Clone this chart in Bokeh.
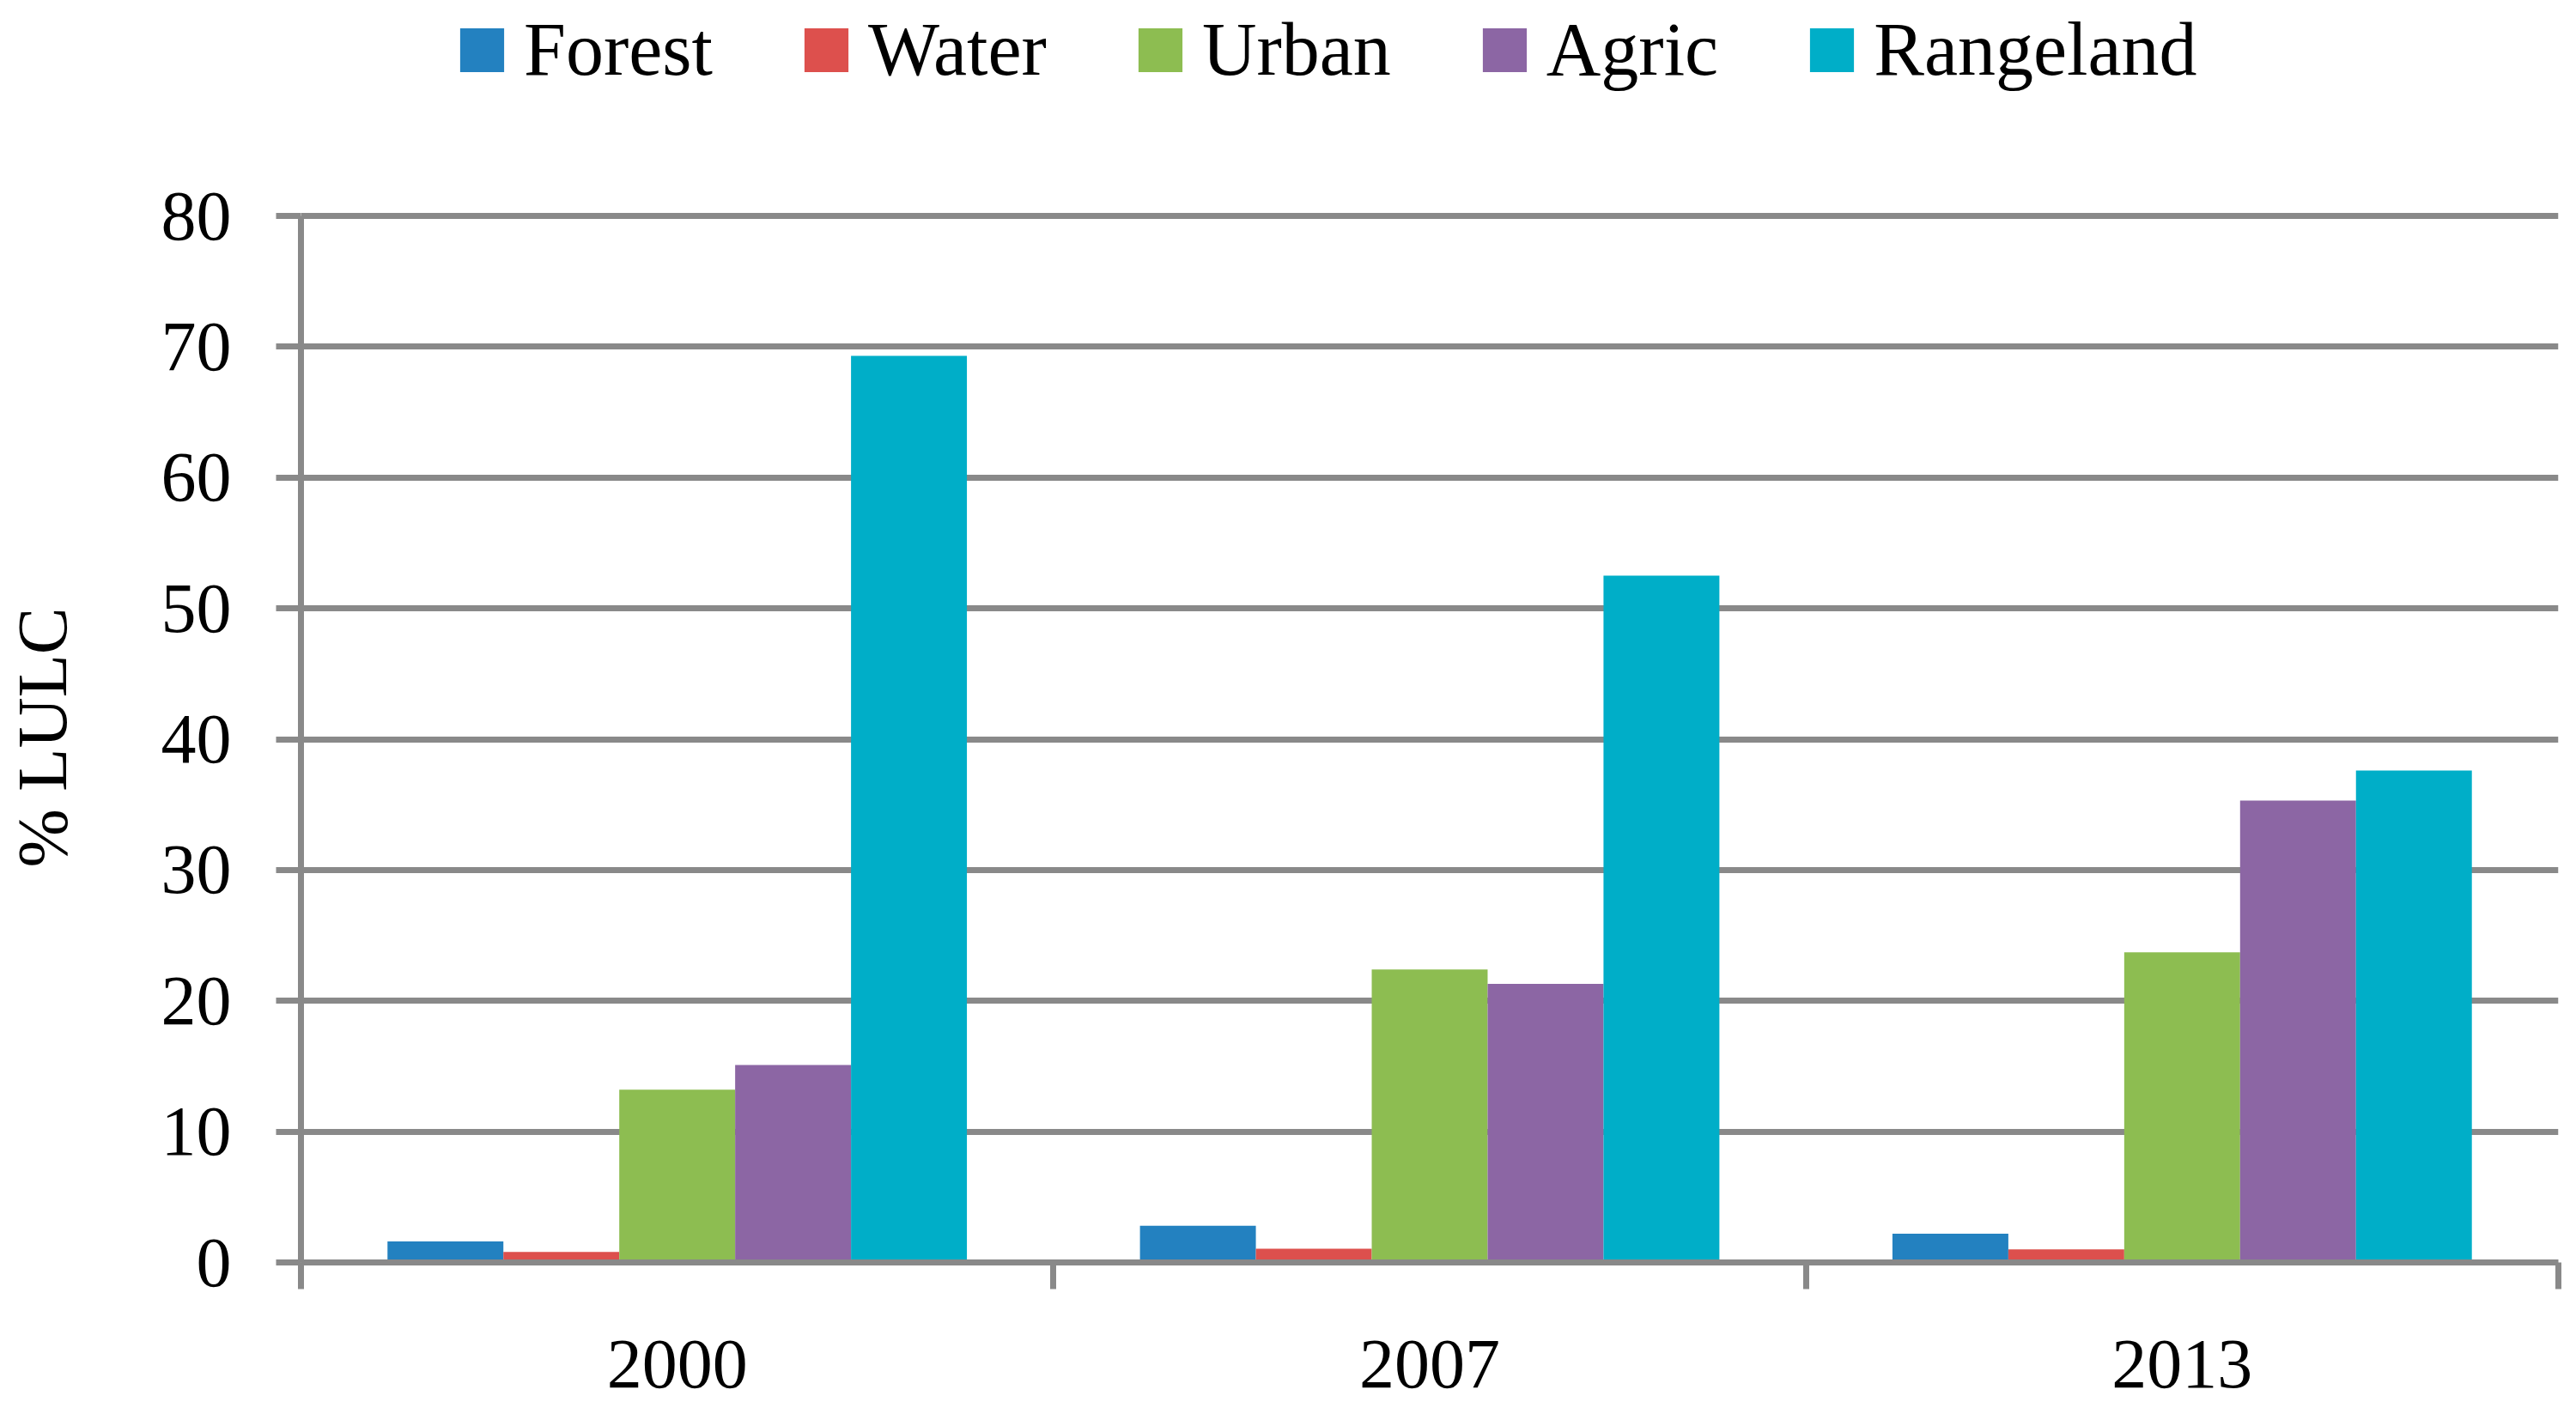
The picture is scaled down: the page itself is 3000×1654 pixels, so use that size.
from bokeh.plotting import figure
from bokeh.layouts import column
from bokeh.models import Range1d, FixedTicker, Legend, LegendItem, ColumnDataSource
from bokeh.embed import file_html
from bokeh.resources import INLINE

years = ["2000", "2007", "2013"]
classes = ["Forest", "Water", "Urban", "Agric", "Rangeland"]
forest = [1.6, 2.8, 2.2]
water = [0.8, 1.05, 1.0]
urban = [13.2, 22.4, 23.7]
agric = [15.1, 21.3, 35.3]
rangeland = [69.3, 52.5, 37.6]
y_ticks = [0, 10, 20, 30, 40, 50, 60, 70, 80]
colors = ["#2381C0", "#DD504D", "#8DBD51", "#8C66A4", "#00AEC8"]

series = [forest, water, urban, agric, rangeland]
GRAY = "#898989"
FONT = "Liberation Serif"
LW = 7
bar_w = 0.154
TOTAL_W = 2984
LEG_H = 200

# a few pixels of headroom above 80 so the top gridline is not clipped
axis_px = 1219
frame_h = axis_px + 4
y_top = y_ticks[-1] * frame_h / axis_px

# ---- main chart ----
p = figure(frame_width=2629, frame_height=frame_h, min_border_left=342, min_border_right=13,
           min_border_top=47, min_border_bottom=168,
           x_range=Range1d(0, len(years)), y_range=Range1d(0, y_top),
           output_backend="svg", toolbar_location=None)
p.outline_line_color = None
p.background_fill_color = "white"

# ---- legend strip above the chart ----
lg = figure(width=TOTAL_W, height=LEG_H, min_border=0,
            x_range=Range1d(0, len(years)), y_range=Range1d(-2, -1),
            x_axis_type=None, y_axis_type=None,
            output_backend="svg", toolbar_location=None)
lg.outline_line_color = None
lg.xgrid.visible = False
lg.ygrid.visible = False

items = []
for k, (name, vals, col) in enumerate(zip(classes, series, colors)):
    xs = [i + 0.5 + (k - 2) * bar_w for i in range(len(years))]
    src = ColumnDataSource(dict(x=xs, top=vals))
    p.vbar(x="x", top="top", bottom=0, width=bar_w, source=src,
           fill_color=col, line_color=None)
    # hidden copy of the series in the legend strip, used only as legend key
    r = lg.vbar(x="x", top="top", bottom=0, width=bar_w, source=src,
                fill_color=col, line_color=None, visible=False)
    items.append(LegendItem(label=name, renderers=[r]))

# Y axis
ya = p.yaxis[0]
ya.ticker = FixedTicker(ticks=y_ticks)
ya.bounds = (y_ticks[0], y_ticks[-1])
ya.axis_line_color = GRAY
ya.axis_line_width = LW
ya.major_tick_line_color = GRAY
ya.major_tick_line_width = LW
ya.major_tick_out = 29
ya.major_tick_in = 0
ya.minor_tick_line_color = None
ya.major_label_standoff = 52
ya.major_label_text_font = FONT
ya.major_label_text_font_size = "82px"
ya.major_label_text_color = "black"
ya.axis_label = "% LULC"
ya.axis_label_text_font = FONT
ya.axis_label_text_font_size = "82px"
ya.axis_label_text_font_style = "normal"
ya.axis_label_text_color = "black"
ya.axis_label_standoff = 90

# X axis: labels at category centres, ticks at category boundaries
xa = p.xaxis[0]
xa.ticker = FixedTicker(ticks=[i + 0.5 for i in range(len(years))],
                        minor_ticks=list(range(len(years) + 1)))
xa.major_label_overrides = {i + 0.5: y for i, y in enumerate(years)}
xa.axis_line_color = GRAY
xa.axis_line_width = LW
xa.major_tick_line_color = None
xa.major_tick_out = 0
xa.major_tick_in = 0
xa.minor_tick_line_color = GRAY
xa.minor_tick_line_width = LW
xa.minor_tick_out = 31
xa.minor_tick_in = 0
xa.major_label_standoff = 60
xa.major_label_text_font = FONT
xa.major_label_text_font_size = "82px"
xa.major_label_text_color = "black"

p.xgrid.grid_line_color = None
p.ygrid.ticker = FixedTicker(ticks=y_ticks)
p.ygrid.grid_line_color = GRAY
p.ygrid.grid_line_width = LW

legend = Legend(items=items, orientation="horizontal", location=(179, 92),
                glyph_width=64, glyph_height=64, label_standoff=17, spacing=100,
                padding=0, margin=0, border_line_color=None,
                background_fill_alpha=0,
                label_text_font=FONT, label_text_font_size="88px",
                label_text_color="black")
lg.add_layout(legend, "center")

layout = column(lg, p, spacing=0)
open("out.html", "w").write(file_html(layout, INLINE))
